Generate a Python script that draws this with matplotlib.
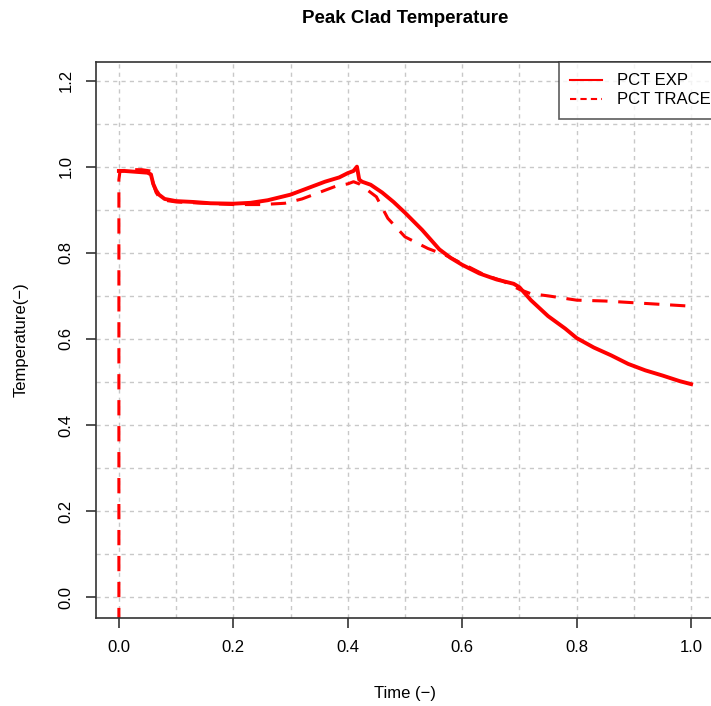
import matplotlib
matplotlib.use("Agg")
import matplotlib.pyplot as plt
from matplotlib.lines import Line2D
import numpy as np

plt.rcParams['font.family'] = ['Liberation Sans', 'DejaVu Sans']

# PCT experiment (solid)
exp_t = [0.0, 0.01, 0.03, 0.05, 0.056, 0.06, 0.065, 0.07, 0.08, 0.10, 0.13,
         0.16, 0.20, 0.23, 0.26, 0.30, 0.33, 0.36, 0.385, 0.40, 0.41, 0.416,
         0.42, 0.425, 0.44, 0.46, 0.48, 0.50, 0.53, 0.56, 0.58, 0.60, 0.63,
         0.66, 0.69, 0.70, 0.72, 0.75, 0.78, 0.80, 0.83, 0.86, 0.89, 0.92,
         0.95, 0.98, 1.0]
exp_T = [0.99, 0.99, 0.988, 0.986, 0.982, 0.96, 0.945, 0.935, 0.925, 0.92,
         0.918, 0.915, 0.914, 0.916, 0.922, 0.935, 0.95, 0.965, 0.975, 0.985,
         0.99, 1.0, 0.97, 0.965, 0.958, 0.94, 0.918, 0.893, 0.853, 0.808,
         0.788, 0.772, 0.752, 0.738, 0.728, 0.72, 0.69, 0.653, 0.624, 0.602,
         0.58, 0.562, 0.542, 0.527, 0.515, 0.502, 0.495]

# PCT TRACE (dashed)
tr_t = [0.0, 0.0, 0.002, 0.02, 0.04, 0.055, 0.06, 0.065, 0.07, 0.08, 0.10,
        0.15, 0.20, 0.25, 0.29, 0.32, 0.35, 0.38, 0.40, 0.41, 0.42, 0.43,
        0.45, 0.47, 0.50, 0.54, 0.57, 0.60, 0.64, 0.67, 0.70, 0.72, 0.75,
        0.80, 0.85, 0.90, 0.95, 1.0]
tr_T = [-0.06, 0.97, 0.99, 0.993, 0.993, 0.99, 0.96, 0.94, 0.93, 0.922, 0.918,
        0.915, 0.912, 0.912, 0.915, 0.925, 0.94, 0.955, 0.96, 0.965, 0.96,
        0.95, 0.93, 0.88, 0.837, 0.81, 0.795, 0.775, 0.748, 0.735, 0.715,
        0.705, 0.70, 0.69, 0.688, 0.684, 0.68, 0.676]

xticks = [0.0, 0.2, 0.4, 0.6, 0.8, 1.0]
yticks = [0.0, 0.2, 0.4, 0.6, 0.8, 1.0, 1.2]

fig = plt.figure(figsize=(7.11, 7.06), dpi=100)
ax = fig.add_axes([96/711, 1 - 618/706, 618/711, 556/706])

# grid every 0.1
for g in np.arange(0, 1.01, 0.1):
    ax.axvline(g, color='#c8c8c8', lw=1, ls=(0, (3, 3)), zorder=0)
for g in np.arange(0, 1.21, 0.1):
    ax.axhline(g, color='#c8c8c8', lw=1, ls=(0, (3, 3)), zorder=0)

ax.plot(exp_t, exp_T, color='red', lw=2.8, solid_joinstyle='round')
ax.plot(tr_t, tr_T, color='red', lw=2.2, dashes=(5, 3.5))

ax.set_xlim(-0.04, 1.04)
ax.set_ylim(-0.048, 1.243)
ax.set_xticks(xticks)
ax.set_yticks(yticks)
ax.set_xticklabels([f"{v:.1f}" for v in xticks])
ax.set_yticklabels([f"{v:.1f}" for v in yticks], rotation=90, va='center')
ax.tick_params(direction='out', length=7, width=1.2, labelsize=12,
               color='#333333', pad=9)
for s in ax.spines.values():
    s.set_linewidth(1.2)
    s.set_color('#333333')

ax.set_xlabel("Time (\u2212)", fontsize=12, labelpad=22)
ax.set_ylabel("Temperature(\u2212)", fontsize=12, labelpad=22)
fig.suptitle("Peak Clad Temperature", fontsize=13.5, fontweight='bold',
             x=405/711, y=1 - 10/706, va='top')

handles = [Line2D([], [], color='red', lw=1.5),
           Line2D([], [], color='red', lw=1.5, dashes=(3, 2))]
leg = ax.legend(handles, ["PCT EXP", "PCT TRACE"], loc='upper right',
                bbox_to_anchor=(1.0 + 8/618, 1.0), borderaxespad=0,
                fontsize=12, frameon=True, fancybox=False,
                edgecolor='#333333', handlelength=1.9, handletextpad=0.9,
                borderpad=0.68, labelspacing=0.25)
leg.get_frame().set_linewidth(1.2)

fig.savefig("out.png", dpi=100)
